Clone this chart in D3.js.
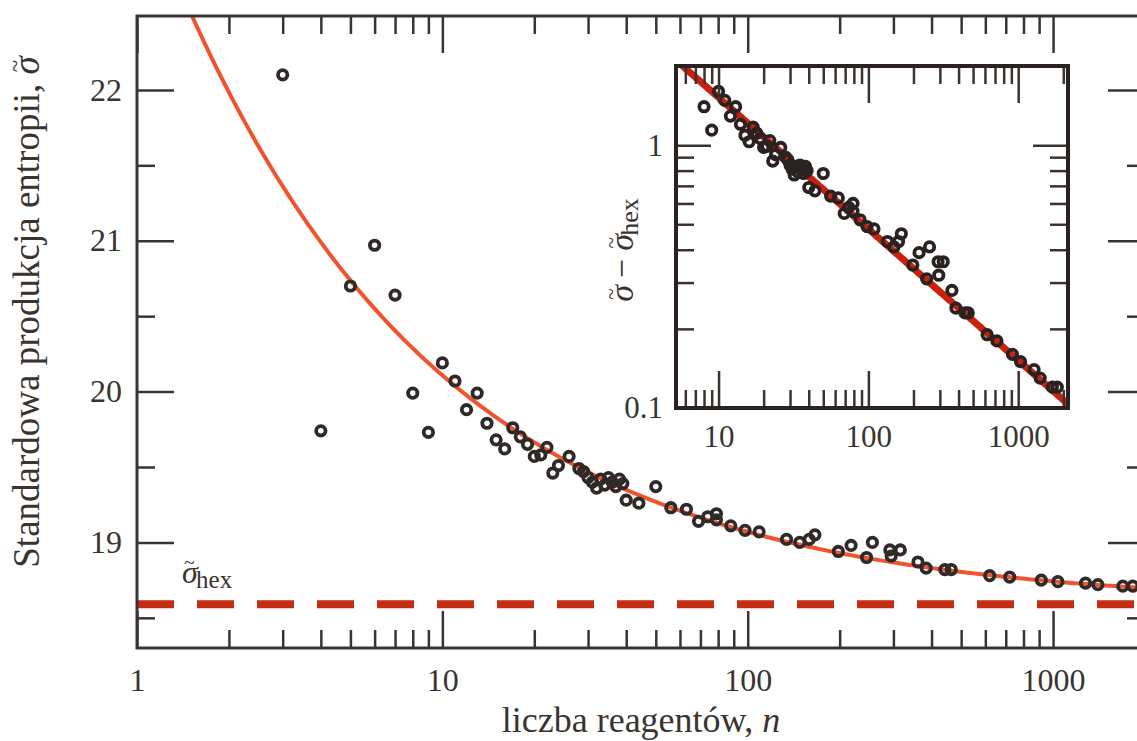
<!DOCTYPE html>
<html>
<head>
<meta charset="utf-8">
<script src="https://cdn.jsdelivr.net/npm/d3@7"></script>
<style>
body { margin: 0; background: #fff; }
text { font-family: "Liberation Serif", "Times New Roman", serif; fill: #3a3431; }
.axis line { stroke: #3a3431; stroke-width: 2.5; }
.axis path { display: none; }
</style>
</head>
<body>
<div id="chart"></div>
<script>
var width = 1137,
    height = 741;

// number of reagents n and standard entropy production
var nValues = [3, 4, 5, 6, 7, 8, 9, 10, 11, 12, 13, 14, 15, 16, 17, 18, 19, 20, 21, 22,
    23, 24, 26, 28, 29, 30, 31, 32, 33, 34, 35, 36, 37, 38, 39, 40, 44, 50,
    56, 63, 69, 74, 79, 79, 88, 98, 109, 134, 148, 159, 166, 198, 218, 245, 256,
    292, 295, 316, 361, 384, 442, 464, 620, 721, 915, 1037, 1277, 1402, 1692, 1824];
var sigmaValues = [22.10, 19.74, 20.70, 20.97, 20.64, 19.99, 19.73, 20.19, 20.07, 19.88, 19.99, 19.79, 19.68, 19.62, 19.76, 19.70, 19.65, 19.57, 19.58, 19.63,
    19.46, 19.51, 19.57, 19.49, 19.47, 19.43, 19.40, 19.36, 19.42, 19.38, 19.43, 19.40, 19.37, 19.42, 19.39, 19.28, 19.26, 19.37,
    19.23, 19.22, 19.14, 19.17, 19.19, 19.15, 19.11, 19.08, 19.07, 19.02, 19.00, 19.02, 19.05, 18.94, 18.98, 18.90, 19.00,
    18.95, 18.91, 18.95, 18.87, 18.83, 18.82, 18.82, 18.78, 18.77, 18.75, 18.74, 18.73, 18.72, 18.71, 18.71];

// hexagonal limit and fit sigma = sigmaHex + fitA * n^fitExp
var sigmaHex = 18.59,
    fitA = 4.8,
    fitExp = -0.5;

// ticks
var xMajorTicks = [1, 10, 100, 1000],
    xMinorTicks = [2, 3, 4, 5, 6, 7, 8, 9, 20, 30, 40, 50, 60, 70, 80, 90, 200, 300, 400, 500, 600, 700, 800, 900, 2000],
    yMajorTicks = [19, 20, 21, 22],
    yMinorTicks = [18.5, 19.5, 20.5, 21.5],
    insetXMajor = [10, 100, 1000],
    insetXMinor = [6, 7, 8, 9, 20, 30, 40, 50, 60, 70, 80, 90, 200, 300, 400, 500, 600, 700, 800, 900, 2000],
    insetYMajor = [0.1, 1],
    insetYMinor = [0.2, 0.3, 0.4, 0.5, 0.6, 0.7, 0.8, 0.9, 2];

var data = nValues.map(function(n, i) { return {n: n, s: sigmaValues[i]}; });

var svg = d3.select("#chart")
    .append("svg")
    .attr("width", width)
    .attr("height", height);

// italic sigma with a small tilde placed over it;
// returns the dx/dy the next tspan needs to get back on the baseline
function sigmaTilde(sel, size) {
    sel.append("tspan").attr("font-style", "italic").text("\u03C3");
    sel.append("tspan")
        .attr("font-size", (0.62 * size) + "px")
        .attr("dx", -0.43 * size)
        .attr("dy", -0.43 * size)
        .text("~");
    return {dx: 0.04 * size, dy: 0.43 * size};
}

// main plot frame
var frame = {left: 137, right: 1145, top: 16, bottom: 648};

var x = d3.scaleLog().domain([1, 2000]).range([frame.left, frame.right]);
var y = d3.scaleLinear().domain([18.3, 22.49]).range([frame.bottom, frame.top]);

svg.append("clipPath").attr("id", "mainclip")
    .append("rect")
    .attr("x", frame.left).attr("y", frame.top)
    .attr("width", frame.right - frame.left).attr("height", frame.bottom - frame.top);

var plot = svg.append("g").attr("clip-path", "url(#mainclip)");

// dashed hex line
plot.append("line")
    .attr("x1", x(1)).attr("x2", x(2000))
    .attr("y1", y(sigmaHex)).attr("y2", y(sigmaHex))
    .attr("stroke", "#c42c14")
    .attr("stroke-width", 8)
    .attr("stroke-dasharray", "37,23");

// fit curve
var fitPts = d3.range(0, 3.31, 0.01).map(function(e) {
    var n = Math.pow(10, e);
    return [n, sigmaHex + fitA * Math.pow(n, fitExp)];
});
plot.append("path")
    .datum(fitPts)
    .attr("fill", "none")
    .attr("stroke", "#f2532f")
    .attr("stroke-width", 4)
    .attr("d", d3.line().x(function(d) { return x(d[0]); }).y(function(d) { return y(d[1]); }));

// data points
plot.selectAll(".pt")
    .data(data)
    .enter().append("circle")
    .attr("class", "pt")
    .attr("cx", function(d) { return x(d.n); })
    .attr("cy", function(d) { return y(d.s); })
    .attr("r", 4.7)
    .attr("fill", "none")
    .attr("stroke", "#2f2a28")
    .attr("stroke-width", 3.8);

// axes with inward ticks
function addAxis(axis, tx, ty) {
    return svg.append("g").attr("class", "axis")
        .attr("transform", "translate(" + tx + "," + ty + ")")
        .call(axis);
}
var fmt = function(d) { return d; };
addAxis(d3.axisBottom(x).tickValues(xMajorTicks).tickSize(-37).tickPadding(20).tickFormat(fmt), 0, frame.bottom)
    .selectAll("text").attr("font-size", "32px");
addAxis(d3.axisBottom(x).tickValues(xMinorTicks).tickSize(-18).tickFormat(""), 0, frame.bottom);
addAxis(d3.axisTop(x).tickValues(xMajorTicks).tickSize(-37).tickFormat(""), 0, frame.top);
addAxis(d3.axisTop(x).tickValues(xMinorTicks).tickSize(-18).tickFormat(""), 0, frame.top);
addAxis(d3.axisLeft(y).tickValues(yMajorTicks).tickSize(-37).tickPadding(15).tickFormat(fmt), frame.left, 0)
    .selectAll("text").attr("font-size", "32px");
addAxis(d3.axisLeft(y).tickValues(yMinorTicks).tickSize(-18).tickFormat(""), frame.left, 0);
addAxis(d3.axisRight(y).tickValues(yMajorTicks).tickSize(-37).tickFormat(""), frame.right, 0);
addAxis(d3.axisRight(y).tickValues(yMinorTicks).tickSize(-18).tickFormat(""), frame.right, 0);
svg.selectAll(".axis text").style("fill", "#3a3431");

svg.append("rect")
    .attr("x", frame.left).attr("y", frame.top)
    .attr("width", frame.right - frame.left).attr("height", frame.bottom - frame.top)
    .attr("fill", "none")
    .attr("stroke", "#3a3431")
    .attr("stroke-width", 3);

// sigma_hex label
var hexLabel = svg.append("text")
    .attr("x", 182).attr("y", 583)
    .attr("font-size", "32px");
var back = sigmaTilde(hexLabel, 32);
hexLabel.append("tspan").attr("font-size", "25px")
    .attr("dx", back.dx).attr("dy", back.dy + 5).text("hex");

// axis titles
var xTitle = svg.append("text")
    .attr("x", 641).attr("y", 732)
    .attr("text-anchor", "middle")
    .attr("font-size", "36px");
xTitle.append("tspan").text("liczba reagentów, ");
xTitle.append("tspan").attr("font-style", "italic").text("n");

var yTitle = svg.append("text")
    .attr("transform", "translate(39,312) rotate(-90)")
    .attr("text-anchor", "middle")
    .attr("font-size", "37px");
yTitle.append("tspan").text("Standardowa produkcja entropii, ");
sigmaTilde(yTitle, 37);

// ---- inset ----
var inset = {left: 676, right: 1068, top: 66, bottom: 408};
var xi = d3.scaleLog().domain([5.2, 2150]).range([inset.left, inset.right]);
var yi = d3.scaleLog().domain([0.1, 2]).range([inset.bottom, inset.top]);

svg.append("rect")
    .attr("x", inset.left).attr("y", inset.top)
    .attr("width", inset.right - inset.left).attr("height", inset.bottom - inset.top)
    .attr("fill", "#fff");

svg.append("clipPath").attr("id", "insetclip")
    .append("rect")
    .attr("x", inset.left).attr("y", inset.top)
    .attr("width", inset.right - inset.left).attr("height", inset.bottom - inset.top);

var iplot = svg.append("g").attr("clip-path", "url(#insetclip)");

var insetFit = d3.range(0.7, 3.34, 0.01).map(function(e) {
    var n = Math.pow(10, e);
    return [n, fitA * Math.pow(n, fitExp)];
});
iplot.append("path")
    .datum(insetFit)
    .attr("fill", "none")
    .attr("stroke", "#c8220f")
    .attr("stroke-width", 7)
    .attr("d", d3.line().x(function(d) { return xi(d[0]); }).y(function(d) { return yi(d[1]); }));

var insetData = data.filter(function(d) {
    var diff = d.s - sigmaHex;
    return d.n >= 5 && diff > 0.1 && diff < 2;
});
iplot.selectAll(".ipt")
    .data(insetData)
    .enter().append("circle")
    .attr("class", "ipt")
    .attr("cx", function(d) { return xi(d.n); })
    .attr("cy", function(d) { return yi(d.s - sigmaHex); })
    .attr("r", 4.7)
    .attr("fill", "none")
    .attr("stroke", "#2a2220")
    .attr("stroke-width", 3.8);

var ifmt = function(d) { return d; };
addAxis(d3.axisBottom(xi).tickValues(insetXMajor).tickSize(-37).tickPadding(17).tickFormat(ifmt), 0, inset.bottom)
    .selectAll("text").attr("font-size", "31px");
addAxis(d3.axisBottom(xi).tickValues(insetXMinor).tickSize(-18).tickFormat(""), 0, inset.bottom);
addAxis(d3.axisTop(xi).tickValues(insetXMajor).tickSize(-37).tickFormat(""), 0, inset.top);
addAxis(d3.axisTop(xi).tickValues(insetXMinor).tickSize(-18).tickFormat(""), 0, inset.top);
addAxis(d3.axisLeft(yi).tickValues(insetYMajor).tickSize(-35).tickPadding(13).tickFormat(ifmt), inset.left, 0)
    .selectAll("text").attr("font-size", "31px");
addAxis(d3.axisLeft(yi).tickValues(insetYMinor).tickSize(-18).tickFormat(""), inset.left, 0);
addAxis(d3.axisRight(yi).tickValues(insetYMajor).tickSize(-35).tickFormat(""), inset.right, 0);
addAxis(d3.axisRight(yi).tickValues(insetYMinor).tickSize(-18).tickFormat(""), inset.right, 0);
svg.selectAll(".axis text").style("fill", "#3a3431");

svg.append("rect")
    .attr("x", inset.left).attr("y", inset.top)
    .attr("width", inset.right - inset.left).attr("height", inset.bottom - inset.top)
    .attr("fill", "none")
    .attr("stroke", "#2a2220")
    .attr("stroke-width", 4);

var iTitle = svg.append("text")
    .attr("transform", "translate(633,250) rotate(-90)")
    .attr("text-anchor", "middle")
    .attr("font-size", "34px");
var b1 = sigmaTilde(iTitle, 34);
iTitle.append("tspan").attr("dx", b1.dx).attr("dy", b1.dy).text(" \u2212 ");
var b2 = sigmaTilde(iTitle, 34);
iTitle.append("tspan").attr("font-size", "26px")
    .attr("dx", b2.dx).attr("dy", b2.dy + 5).text("hex");
</script>
</body>
</html>
